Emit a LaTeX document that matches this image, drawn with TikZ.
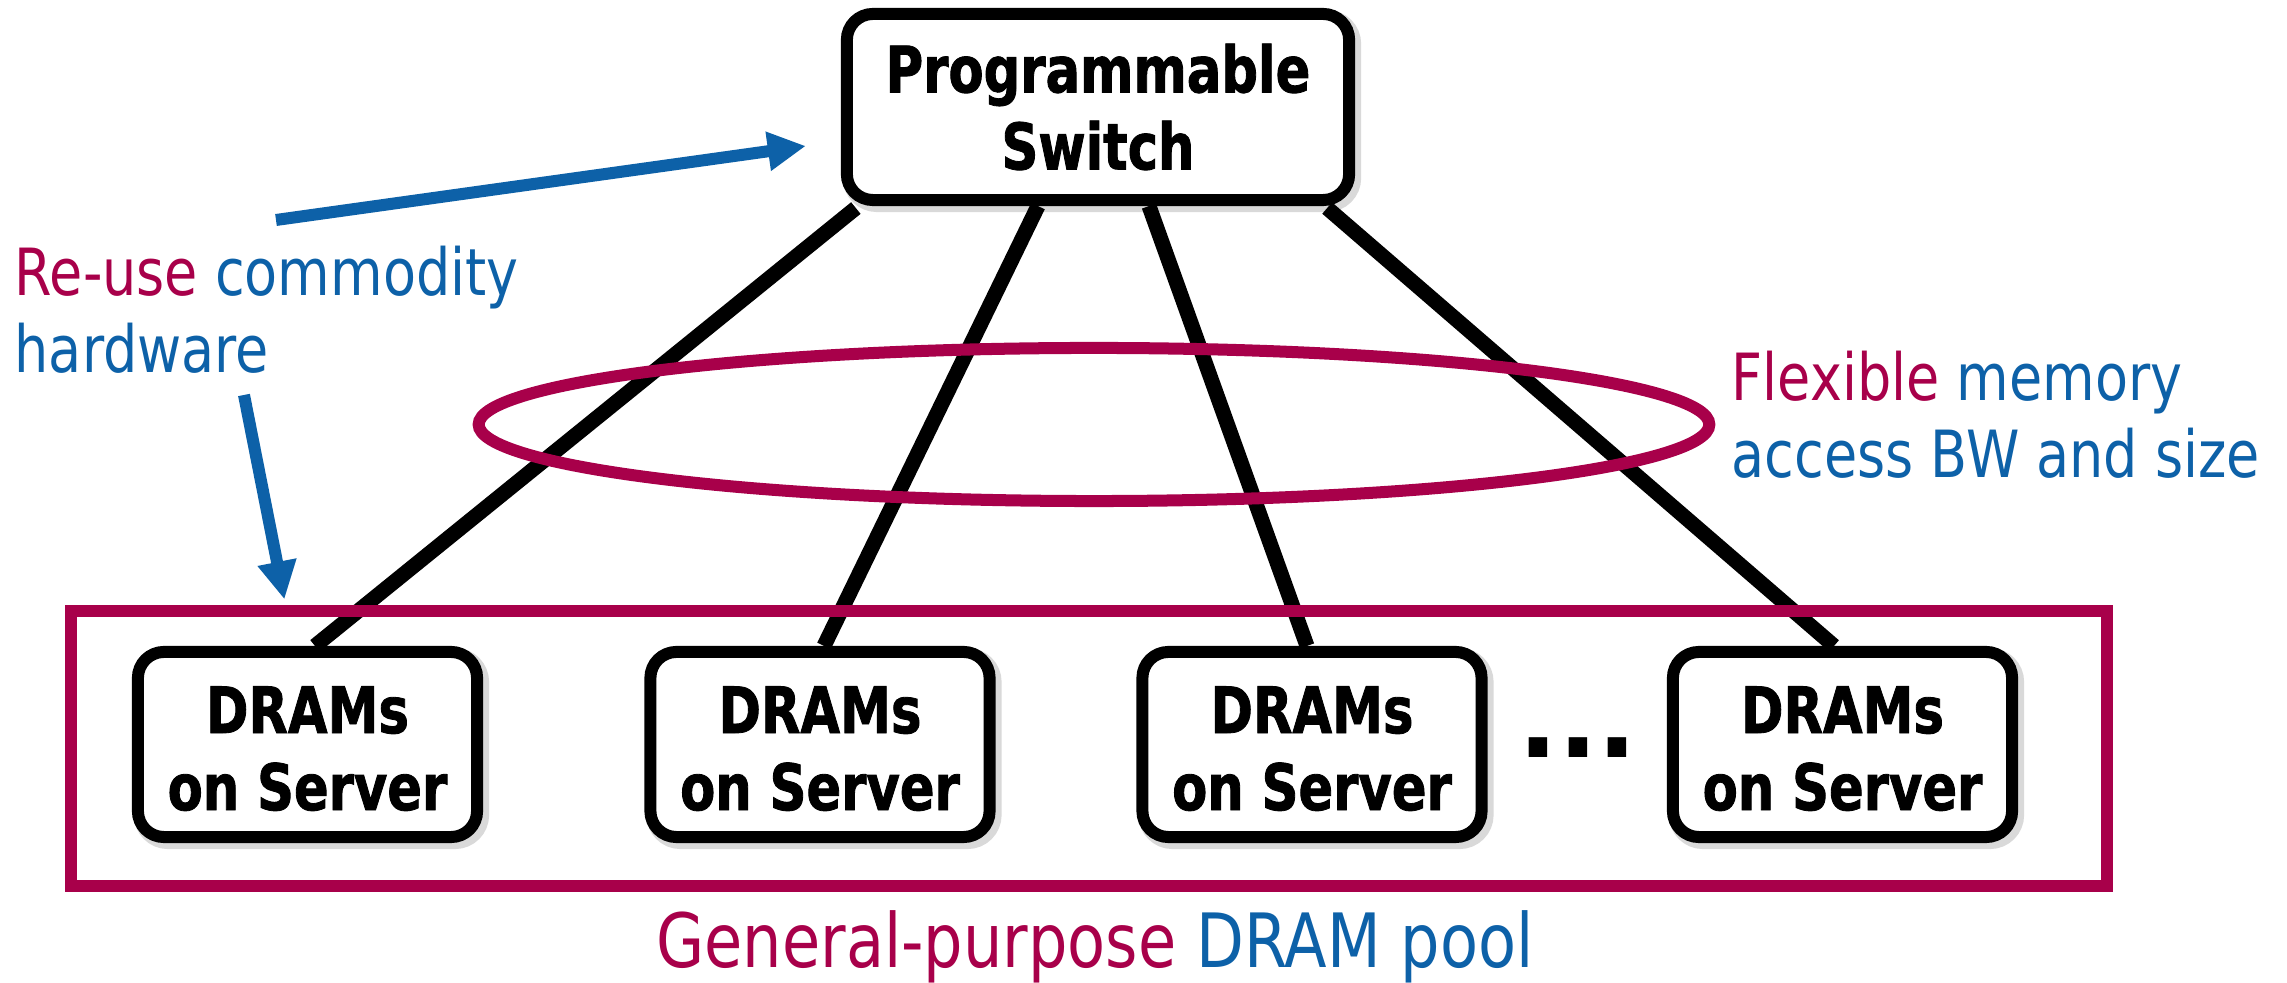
\documentclass[tikz,border=0pt]{standalone}
\usepackage{fontspec}
\setmainfont{DejaVu Sans}
\newfontfamily\lblfont{DejaVu Sans}[FakeStretch=0.83]
\newfontfamily\boxfont{DejaVu Sans}[FakeStretch=0.8, BoldFeatures={FakeBold=1.3}]
\newfontfamily\dotfont{DejaVu Sans}
\usetikzlibrary{arrows.meta,calc,shadows,shapes.geometric}
\definecolor{mag}{RGB}{168,0,74}
\definecolor{blu}{RGB}{13,97,168}
\pgfdeclarelayer{bg}
\pgfsetlayers{bg,main}
\tikzset{
  hwbox/.style={draw=black, line width=0.12cm, fill=white, rounded corners=0.26cm,
    inner sep=0pt, align=center,
    font={\boxfont\bfseries\fontsize{18.2pt}{21.9pt}\selectfont},
    drop shadow={shadow xshift=0.04cm, shadow yshift=-0.04cm, opacity=0.15,
      fill=black, draw=black, line width=0.16cm}},
  link/.style={draw=black, line width=0.15cm},
  magline/.style={draw=mag, line width=0.12cm},
  bluearrow/.style={draw=blu, line width=0.12cm, -{Triangle[length=0.38cm, width=0.37cm]}},
  lbl/.style={inner sep=0pt, align=left,
    font={\lblfont\fontsize{18.5pt}{21.9pt}\selectfont}},
}
\newcommand{\firstup}{\rule{0pt}{0.55cm}}
\begin{document}
\begin{tikzpicture}[x=0.01cm, y=-0.01cm]
\useasboundingbox (0,0) rectangle (2287,983);

% pool rectangle
\node[magline, minimum width=20.34cm, minimum height=2.74cm, inner sep=0pt] (pool) at (1089,748.5) {};

% switch and DRAM boxes
\node[hwbox, minimum width=5.02cm, minimum height=1.86cm] (sw) at (1098,107) {Programmable\\Switch};
\node[hwbox, minimum width=3.39cm, minimum height=1.85cm] (d1) at (307.5,744.5) {\firstup DRAMs\\on Server};
\node[hwbox, minimum width=3.39cm, minimum height=1.85cm] (d2) at (820,744.5) {\firstup DRAMs\\on Server};
\node[hwbox, minimum width=3.39cm, minimum height=1.85cm] (d3) at (1312,744.5) {\firstup DRAMs\\on Server};
\node[hwbox, minimum width=3.39cm, minimum height=1.85cm] (d4) at (1842.5,744.5) {\firstup DRAMs\\on Server};

\node[anchor=base, inner sep=0pt, font={\dotfont\bfseries\fontsize{29.8pt}{30pt}\selectfont}] (dots) at (1578,758) {...};

% links behind the boxes
\begin{pgfonlayer}{bg}
\fill[white] (0,0) rectangle (2287,983);
\draw[link] ($(sw.south west)+(15,2)$) -- ($(d1.north)+(7.5,0)$);
\draw[link] ($(sw.south)+(-60,0)$) -- ($(d2.north)+(4,0)$);
\draw[link] ($(sw.south)+(51,0)$) -- ($(d3.north)+(-5,0)$);
\draw[link] ($(sw.south east)+(-28,2)$) -- ($(d4.north)+(-8.5,0)$);
\end{pgfonlayer}

% group ellipse
\node[magline, ellipse, minimum width=12.3cm, minimum height=1.53cm, inner sep=0pt] (grp) at (1094,424.5) {};

% labels
\node[lbl, anchor=north west] (reuse) at (14,245.6)
  {\textcolor{mag}{Re-use} \textcolor{blu}{commodity}\\\textcolor{blu}{hardware}};
\node[lbl, anchor=north west] (flex) at (1731,350.6)
  {\textcolor{mag}{Flexible} \textcolor{blu}{memory}\\\textcolor{blu}{access BW and size}};
\node[anchor=base, inner sep=0pt, font={\lblfont\fontsize{21.3pt}{25pt}\selectfont}] (pooltxt) at (1095,968)
  {\textcolor{mag}{General-purpose} \textcolor{blu}{DRAM pool}};

% arrows
\coordinate (a1s) at (276,220);
\coordinate (a2s) at (244,395);
\draw[bluearrow] (a1s) -- ($(sw.west)+(-35,39)$);
\draw[bluearrow] (a2s) -- ($(pool.north west)+(219,-6)$);
\end{tikzpicture}
\end{document}
